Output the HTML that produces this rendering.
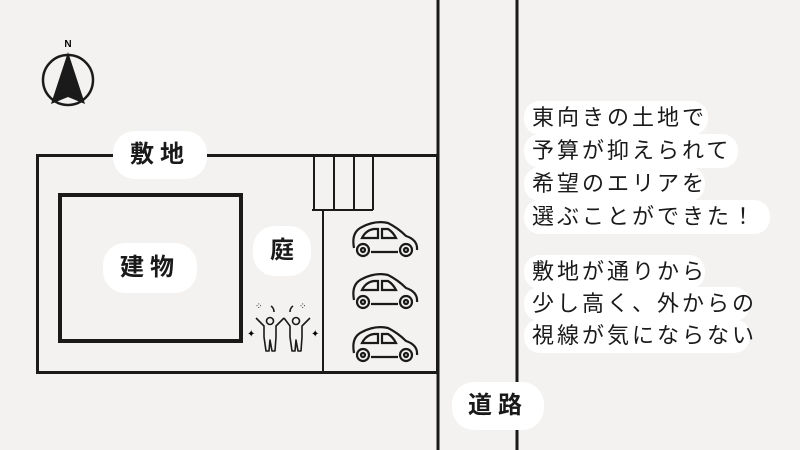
<!DOCTYPE html>
<html><head><meta charset="utf-8"><style>
body{margin:0;width:800px;height:450px;background:#f3f2f0;overflow:hidden;position:relative;font-family:"Liberation Sans","Noto Sans CJK JP",sans-serif;color:#1a1a1a}
.b{position:absolute;background:#fff;border-radius:22px;text-align:center;font-weight:bold;letter-spacing:6px}
.l{position:absolute;left:524px;background:#fff;border-radius:16px;font-size:22px;letter-spacing:3px;padding:0 8px;height:34px;line-height:33px;white-space:nowrap}
</style></head><body>
<svg width="800" height="450" style="position:absolute;left:0;top:0">
<g stroke="#1a1a1a" fill="none">
<line x1="438" y1="0" x2="438" y2="450" stroke-width="3"/>
<line x1="517" y1="0" x2="517" y2="450" stroke-width="3"/>
<rect x="37.5" y="155.5" width="400" height="217" stroke-width="3"/>
<rect x="60" y="195" width="181" height="146" stroke-width="4"/>
<line x1="323" y1="210" x2="323" y2="373" stroke-width="2"/>
<g stroke-width="2"><line x1="314" y1="155" x2="314" y2="210"/><line x1="334" y1="155" x2="334" y2="210"/><line x1="354" y1="155" x2="354" y2="210"/><line x1="373" y1="155" x2="373" y2="210"/><line x1="312" y1="210" x2="373" y2="210"/></g>
<circle cx="68" cy="80" r="25" stroke-width="2.5"/>
</g>
<polygon points="68,52 51,104 68,97 85,104" fill="#1a1a1a"/>
<text x="68" y="47" font-size="10" font-weight="bold" text-anchor="middle" font-family="Liberation Sans">N</text>
<g id="car" fill="none" stroke="#1a1a1a" stroke-width="2.2">
<path d="M354 248 Q351 232 362 227 Q375 220 388 223 Q398 228 406 236 Q418 240 417 250"/>
<path d="M362 238 Q366 230 374 229 L378 229 L378 238 Z M382 229 L388 229 Q393 232 396 238 L382 238 Z"/>
<circle cx="363" cy="250" r="6"/><circle cx="363" cy="250" r="2"/>
<circle cx="406" cy="250" r="6"/><circle cx="406" cy="250" r="2"/>
<line x1="371" y1="252" x2="398" y2="252"/>
</g>
<use href="#car" y="52"/><use href="#car" y="105"/>
<g fill="none" stroke="#1a1a1a" stroke-width="1.6" stroke-linejoin="round">
<path d="M256 318 L264 326 L264 337 L266 351 L269 351 L270 340 L272 351 L275 351 L276 337 L276 326 L284 318"/><circle cx="270" cy="321" r="3.5"/>
<path d="M284 318 L290 326 L290 337 L292 351 L295 351 L296 340 L298 351 L301 351 L302 337 L302 326 L310 318"/><circle cx="296" cy="321" r="3.5"/>
<path d="M271 306 q3 2 3 6 M293 306 q-3 2 -3 6"/>
</g>
<text x="247" y="337" font-size="10">✦</text><text x="311" y="337" font-size="10">✦</text>
<text x="255" y="309" font-size="9">⁘</text><text x="299" y="309" font-size="9">⁘</text>
</svg>
<div class="b" style="left:113px;top:131px;width:94px;height:48px;line-height:48px;font-size:24px">敷地</div>
<div class="b" style="left:103px;top:243px;width:94px;height:50px;line-height:50px;font-size:24px">建物</div>
<div class="b" style="left:253px;top:226px;width:58px;height:50px;line-height:50px;font-size:24px;letter-spacing:0">庭</div>
<div class="b" style="left:452px;top:382px;width:92px;height:48px;line-height:48px;font-size:24px">道路</div>
<div class="l" style="top:101px;width:168px">東向きの土地で</div>
<div class="l" style="top:134px;width:198px">予算が抑えられて</div>
<div class="l" style="top:167px;width:165px">希望のエリアを</div>
<div class="l" style="top:200px;width:230px">選ぶことができた！</div>
<div class="l" style="top:255px;width:165px">敷地が通りから</div>
<div class="l" style="top:287px;width:210px">少し高く、外からの</div>
<div class="l" style="top:319px;width:210px">視線が気にならない</div>
</body></html>
